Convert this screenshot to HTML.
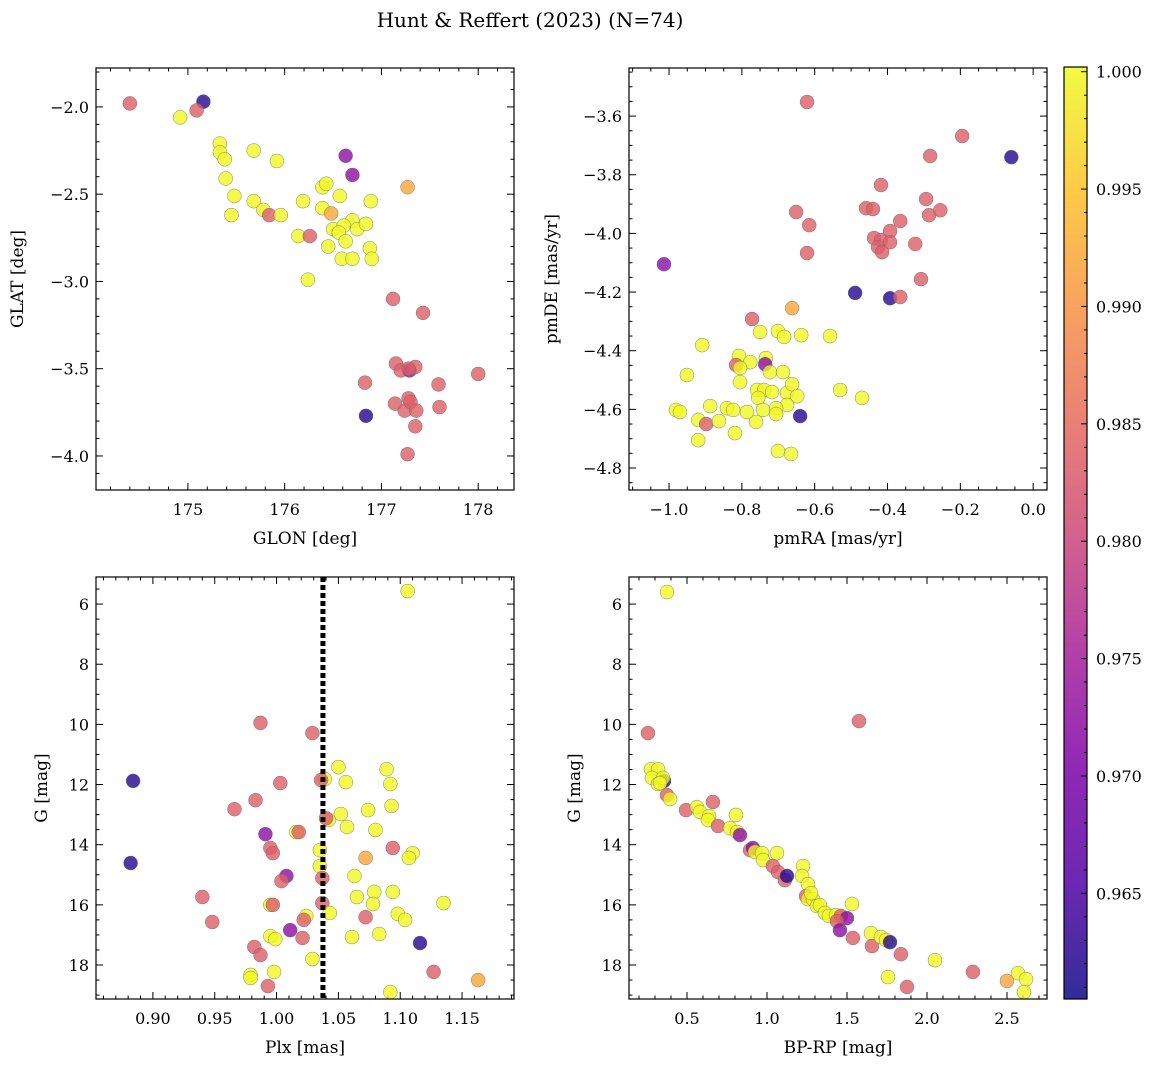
<!DOCTYPE html>
<html><head><meta charset="utf-8"><style>
body{margin:0;background:#fff}
svg{display:block;font-family:"DejaVu Serif","Liberation Serif",serif}
</style></head><body>
<svg id="fig" width="1161" height="1067" viewBox="0 0 1161 1067" xmlns="http://www.w3.org/2000/svg">
<text x="530" y="27" font-size="20" text-anchor="middle">Hunt &amp; Reffert (2023) (N=74)</text>
</svg>
<script>
// probability codes: Y=1.0, O=0.992, S=0.9835, P=0.972, B=0.962
const probLevels = {Y:1.0, O:0.992, S:0.9835, P:0.972, B:0.962};
// Panel 1: GLON / GLAT
const glon = [174.40,175.16,175.09,174.92,175.33,175.33,175.38,175.39,175.48,175.45,175.68,175.92,175.68,175.78,175.84,175.96,176.14,176.26,176.19,176.24,176.39,176.43,176.39,176.45,176.48,176.50,176.57,176.63,176.70,176.70,176.61,176.56,176.63,176.59,176.70,176.75,176.84,176.89,176.88,176.90,177.27,177.12,177.43,176.83,176.84,177.15,177.20,177.29,177.35,177.28,177.14,177.24,177.28,177.30,177.36,177.35,177.27,177.59,177.60,178.00];
const glat = [-1.98,-1.97,-2.02,-2.06,-2.21,-2.26,-2.30,-2.41,-2.51,-2.62,-2.25,-2.31,-2.54,-2.59,-2.62,-2.62,-2.74,-2.74,-2.54,-2.99,-2.46,-2.44,-2.58,-2.80,-2.61,-2.70,-2.51,-2.28,-2.39,-2.65,-2.68,-2.72,-2.77,-2.87,-2.87,-2.70,-2.67,-2.54,-2.81,-2.87,-2.46,-3.10,-3.18,-3.58,-3.77,-3.47,-3.51,-3.51,-3.49,-3.50,-3.70,-3.74,-3.67,-3.69,-3.74,-3.83,-3.99,-3.59,-3.72,-3.53];
const prob1 = "SBSYYYYYYYYYYYSYYSYYYYYYOYYPPYYYYYYYYYYYOSSSBSSPSSSSSSSSSSSS";
// Panel 2: pmRA / pmDE
const pmra = [-0.621,-0.195,-0.060,-0.283,-1.014,-0.651,-0.418,-0.459,-0.440,-0.615,-0.294,-0.286,-0.255,-0.365,-0.393,-0.437,-0.418,-0.393,-0.426,-0.415,-0.324,-0.621,-0.489,-0.393,-0.365,-0.308,-0.772,-0.662,-0.750,-0.701,-0.684,-0.637,-0.558,-0.909,-0.951,-0.808,-0.777,-0.734,-0.736,-0.816,-0.805,-0.723,-0.687,-0.805,-0.758,-0.739,-0.717,-0.676,-0.662,-0.648,-0.530,-0.470,-0.755,-0.676,-0.981,-0.970,-0.887,-0.841,-0.824,-0.786,-0.742,-0.706,-0.706,-0.640,-0.761,-0.920,-0.898,-0.863,-0.819,-0.920,-0.701,-0.665];
const pmde = [-3.552,-3.668,-3.740,-3.736,-4.105,-3.927,-3.835,-3.914,-3.917,-3.972,-3.883,-3.938,-3.921,-3.958,-3.992,-4.016,-4.023,-4.030,-4.047,-4.064,-4.036,-4.067,-4.203,-4.221,-4.217,-4.156,-4.292,-4.255,-4.336,-4.333,-4.353,-4.347,-4.350,-4.381,-4.483,-4.418,-4.439,-4.425,-4.446,-4.449,-4.459,-4.473,-4.473,-4.507,-4.534,-4.534,-4.541,-4.544,-4.514,-4.555,-4.534,-4.561,-4.561,-4.585,-4.602,-4.609,-4.589,-4.596,-4.602,-4.609,-4.602,-4.596,-4.616,-4.623,-4.643,-4.636,-4.650,-4.640,-4.681,-4.705,-4.742,-4.752];
const prob2 = "SSBSPSSSSSSSSSSSSSSSSSBBSSSOYYYYYYYYYYPSYYYYYYYYYYYYYYYYYYYYYYYBYYSYYYYY";
// Panel 3: Plx / G
const plx = [1.106,0.987,1.029,0.884,0.882,0.983,0.966,1.003,1.050,1.039,1.056,1.036,1.089,1.092,1.093,1.074,1.052,1.042,1.040,1.057,1.094,1.080,0.991,1.016,1.018,1.035,1.035,0.995,0.997,1.072,1.110,1.107,1.008,1.004,1.037,1.063,1.079,1.065,1.078,1.094,0.940,1.037,0.995,0.997,1.135,1.043,1.098,1.104,1.024,1.022,1.072,0.948,1.011,1.083,1.061,0.995,0.999,1.021,1.116,0.982,0.987,1.029,0.979,0.979,0.998,1.127,1.163,0.993,1.092];
const gmag3 = [5.57,9.95,10.29,11.88,14.61,12.52,12.82,11.95,11.42,11.82,11.92,11.85,11.49,11.98,12.71,12.85,12.98,13.18,13.12,13.41,14.11,13.51,13.65,13.58,13.58,14.18,14.71,14.11,14.28,14.44,14.28,14.44,15.04,15.21,15.11,15.04,15.57,15.74,15.97,15.57,15.74,15.94,16.00,16.00,15.94,16.27,16.30,16.50,16.37,16.50,16.41,16.57,16.84,16.97,17.07,17.04,17.14,17.10,17.27,17.40,17.67,17.80,18.33,18.43,18.23,18.23,18.50,18.70,18.90];
const prob3 = "YSSBBSSSYYYSYYYYYYSYSYPYSYYSSOYYPSSYYYYYSSYSYYYYYSSSPYYYYSBSSYYYYSOSY";
// Panel 4: BP-RP / G
const bprp = [0.375,1.575,0.256,0.275,0.319,0.356,0.281,0.319,0.350,0.331,0.375,0.394,0.494,0.562,0.581,0.662,0.638,0.631,0.694,0.806,0.769,0.813,0.831,0.894,0.912,0.925,0.969,0.975,1.062,1.037,1.069,1.112,1.125,1.225,1.219,1.256,1.244,1.256,1.287,1.275,1.312,1.331,1.362,1.387,1.431,1.462,1.500,1.531,1.437,1.456,1.537,1.650,1.656,1.712,1.744,1.769,1.756,1.837,1.875,2.050,2.287,2.500,2.569,2.619,2.606];
const gmag4 = [5.60,9.89,10.29,11.49,11.49,11.88,11.78,11.98,11.78,11.95,12.35,12.48,12.85,12.75,12.91,12.58,13.05,13.18,13.38,13.01,13.45,13.58,13.68,14.18,14.11,14.24,14.28,14.51,14.28,14.71,14.91,15.18,15.04,14.71,15.04,15.31,15.71,15.81,15.81,15.61,16.04,16.01,16.27,16.37,16.34,16.37,16.44,15.97,16.54,16.84,17.10,16.94,17.37,17.07,17.17,17.24,18.40,17.64,18.73,17.84,18.23,18.53,18.27,18.47,18.90];
const prob4 = "YSSYYBYYYYSYSYYSYYSYYYPSPYYYYSSSBYYYSYYYYYYYYSPYSPSYSYYBYSSYSOYYY";
// Colorbar ticks
const cbTicks = [0.965,0.970,0.975,0.980,0.985,0.990,0.995,1.000];
const VMIN = 0.9605, VMAX = 1.0002;

const NS = "http://www.w3.org/2000/svg";
const svg = document.getElementById('fig');
function mk(tag, attrs, parent){const e=document.createElementNS(NS,tag);for(const k in attrs)e.setAttribute(k,attrs[k]);(parent||svg).appendChild(e);return e;}
const plasma = [[0,13,8,135],[0.125,84,2,163],[0.25,126,3,168],[0.375,166,32,152],[0.5,204,71,120],[0.625,230,108,92],[0.75,248,149,64],[0.875,253,196,39],[1,240,249,33]];
function cmap(v){let t=(v-VMIN)/(VMAX-VMIN);t=Math.max(0,Math.min(1,t));for(let i=1;i<plasma.length;i++){if(t<=plasma[i][0]){const a=plasma[i-1],b=plasma[i],f=(t-a[0])/(b[0]-a[0]);return `rgb(${Math.round(a[1]+f*(b[1]-a[1]))},${Math.round(a[2]+f*(b[2]-a[2]))},${Math.round(a[3]+f*(b[3]-a[3]))})`;}}return 'rgb(240,249,33)';}

function panel(o){
  const {x0,x1,y0,y1,xmin,xmax,ymin,ymax,xMaj,xMin,yMaj,yMin,xfmt,yfmt,xlabel,ylabel,name,xs,ys,ps,invertY}=o;
  const X=v=>x0+(v-xmin)/(xmax-xmin)*(x1-x0);
  const Y=v=>invertY? y0+(v-ymin)/(ymax-ymin)*(y1-y0) : y1-(v-ymin)/(ymax-ymin)*(y1-y0);
  const g=mk('g',{});
  
  
  const ticks=mk('g',{stroke:'#000','stroke-width':1},g);
  const eps=1e-9;
  const lo=Math.min(xmin,xmax),hi=Math.max(xmin,xmax);
  for(let v=Math.ceil(lo/xMin-eps)*xMin; v<=hi+eps; v+=xMin){
    const maj=Math.abs(v/xMaj-Math.round(v/xMaj))<1e-6; const L=maj?7:3.5; const px=X(v);
    mk('line',{x1:px,x2:px,y1:y1,y2:y1-L},ticks); mk('line',{x1:px,x2:px,y1:y0,y2:y0+L},ticks);
    if(maj){const t=mk('text',{x:px,y:y1+25,'font-size':16,'text-anchor':'middle',stroke:'none'},g);t.textContent=xfmt(v);
      
      }
  }
  const ylo=Math.min(ymin,ymax),yhi=Math.max(ymin,ymax);
  for(let v=Math.ceil(ylo/yMin-eps)*yMin; v<=yhi+eps; v+=yMin){
    const maj=Math.abs(v/yMaj-Math.round(v/yMaj))<1e-6; const L=maj?7:3.5; const py=Y(v);
    mk('line',{x1:x0,x2:x0+L,y1:py,y2:py},ticks); mk('line',{x1:x1,x2:x1-L,y1:py,y2:py},ticks);
    if(maj){const t=mk('text',{x:x0-7,y:py+6,'font-size':16,'text-anchor':'end'},g);t.textContent=yfmt(v);
      
      }
  }
  const pts=mk('g',{},g);
  for(let i=0;i<xs.length;i++){
    const c=mk('circle',{cx:X(xs[i]),cy:Y(ys[i]),r:7,fill:cmap(probLevels[ps[i]]),'fill-opacity':0.8,stroke:'#666','stroke-width':0.4},pts);
    
    
  }
  if(o.vline!==undefined){const l=mk('line',{x1:X(o.vline),x2:X(o.vline),y1:y0,y2:y1,stroke:'#000','stroke-width':5,'stroke-dasharray':'5,3'},g);
    
    }
  const fr=mk('rect',{x:x0,y:y0,width:x1-x0,height:y1-y0,fill:'none',stroke:'#000','stroke-width':1.2},g);
  
  
  const xl=mk('text',{x:(x0+x1)/2,y:y1+54,'font-size':17,'text-anchor':'middle'},g);xl.textContent=xlabel;
  
  
  const yx=o.ylx, yc=(y0+y1)/2;
  const yl=mk('text',{x:yx,y:yc,'font-size':17,'text-anchor':'middle',transform:`rotate(-90 ${yx} ${yc})`},g);yl.textContent=ylabel;
  
  
}
const f1=v=>(Math.abs(v)<1e-9?'0.0':v.toFixed(1)).replace('-','−');
const f0=v=>Math.round(v).toString();
const f2=v=>v.toFixed(2);
panel({name:'glon-glat',x0:96,x1:514,y0:68,y1:490,xmin:174.05,xmax:178.37,ymin:-4.195,ymax:-1.777,xMaj:1,xMin:0.2,yMaj:0.5,yMin:0.1,xfmt:f0,yfmt:f1,xlabel:'GLON [deg]',ylabel:'GLAT [deg]',xs:glon,ys:glat,ps:prob1,ylx:23});
panel({name:'proper-motion',x0:629,x1:1047,y0:68,y1:490,xmin:-1.110,xmax:0.038,ymin:-4.875,ymax:-3.436,xMaj:0.2,xMin:0.05,yMaj:0.2,yMin:0.05,xfmt:f1,yfmt:f1,xlabel:'pmRA [mas/yr]',ylabel:'pmDE [mas/yr]',xs:pmra,ys:pmde,ps:prob2,ylx:557});
panel({name:'plx-g',x0:96,x1:514,y0:577,y1:999,xmin:0.854,xmax:1.192,ymin:5.10,ymax:19.13,invertY:true,xMaj:0.05,xMin:0.01,yMaj:2,yMin:0.5,xfmt:f2,yfmt:f0,xlabel:'Plx [mas]',ylabel:'G [mag]',xs:plx,ys:gmag3,ps:prob3,ylx:47,vline:1.0375});
panel({name:'cmd',x0:629,x1:1047,y0:577,y1:999,xmin:0.1375,xmax:2.75,ymin:5.10,ymax:19.13,invertY:true,xMaj:0.5,xMin:0.1,yMaj:2,yMin:0.5,xfmt:f1,yfmt:f0,xlabel:'BP-RP [mag]',ylabel:'G [mag]',xs:bprp,ys:gmag4,ps:prob4,ylx:580});

// colorbar
const cb=mk('g',{});


const defs=mk('defs',{});
const lg=mk('linearGradient',{id:'pl',x1:0,y1:1,x2:0,y2:0},defs);
plasma.forEach(s=>mk('stop',{offset:s[0],'stop-color':`rgb(${s[1]},${s[2]},${s[3]})`},lg));
const cx0=1064,cx1=1087,cy0=67,cy1=999;
mk('rect',{x:cx0,y:cy0,width:cx1-cx0,height:cy1-cy0,fill:'url(#pl)','fill-opacity':0.85},cb);
const CY=v=>cy1-(v-VMIN)/(VMAX-VMIN)*(cy1-cy0);
for(let v=0.961;v<=1.0001;v+=0.001){const py=CY(v);const maj=Math.abs(v*200-Math.round(v*200))<1e-6;
  mk('line',{x1:cx1,x2:cx1-(maj?6:3),y1:py,y2:py,stroke:'#000'},cb);}
cbTicks.forEach(v=>{const py=CY(v);const t=mk('text',{x:cx1+9,y:py+6,'font-size':16},cb);t.textContent=v.toFixed(3);
  
  });
mk('rect',{x:cx0,y:cy0,width:cx1-cx0,height:cy1-cy0,fill:'none',stroke:'#000','stroke-width':1.2},cb);
</script>
</body></html>
